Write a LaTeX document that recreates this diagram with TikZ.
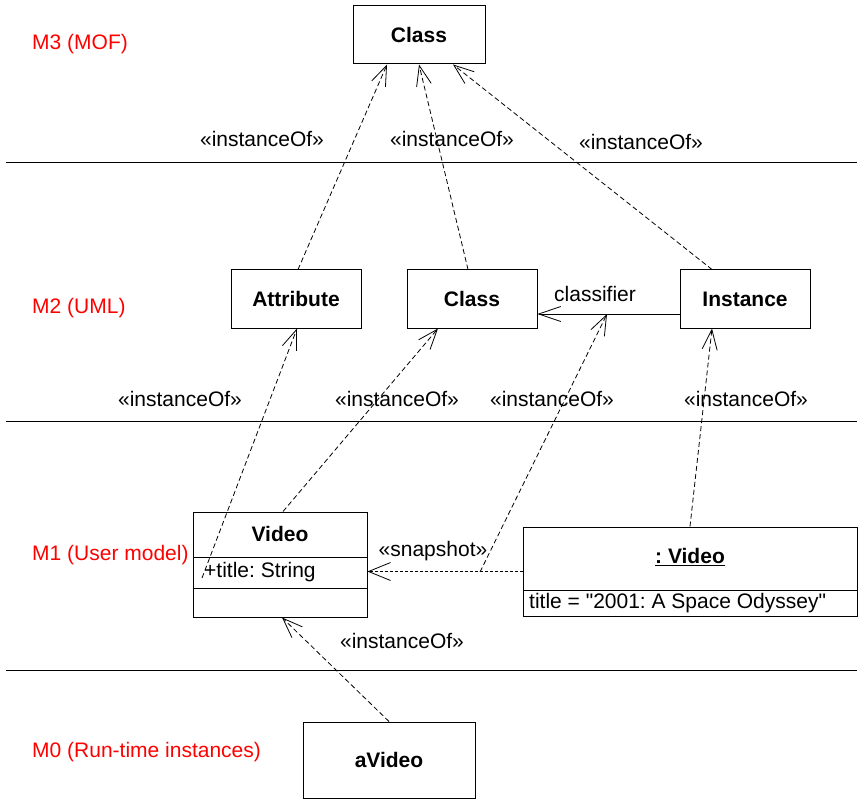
\documentclass[tikz,border=0pt]{standalone}
\usepackage{fontspec}
\setmainfont{Liberation Sans}[Ligatures=TeXOff]
\usetikzlibrary{arrows.meta,calc}
\definecolor{layerred}{RGB}{255,0,0}
\frenchspacing
\begin{document}
\begin{tikzpicture}[x=1pt,y=-1pt,
  txt/.style={font=\fontsize{21}{25}\selectfont, inner sep=0pt},
  btxt/.style={font=\fontsize{21}{25}\selectfont\bfseries, inner sep=0pt},
  layer/.style={txt, text=layerred, anchor=west},
  box/.style={draw, line width=1pt, inner sep=0pt, font=\fontsize{21}{25}\selectfont\bfseries},
  inst/.style={draw, line width=0.8pt, dash pattern=on 5pt off 3pt, -{Straight Barb[length=20pt,width=15pt,line width=0.8pt]}},
  snap/.style={draw, line width=0.8pt, dash pattern=on 3pt off 2pt, -{Straight Barb[length=22pt,width=18pt,line width=0.8pt]}},
  assoc/.style={draw, line width=0.8pt, -{Straight Barb[length=22pt,width=15pt,line width=0.8pt]}},
  sep/.style={line width=0.8pt}]
\useasboundingbox (0,0) rectangle (858,799);

% layer separators
\coordinate (s1a) at (6,162); \coordinate (s1b) at (857,162);
\coordinate (s2a) at (6,421); \coordinate (s2b) at (857,421);
\coordinate (s3a) at (6,670); \coordinate (s3b) at (857,670);
\draw[sep] (s1a) -- (s1b);
\draw[sep] (s2a) -- (s2b);
\draw[sep] (s3a) -- (s3b);

% layer labels
\node[layer] (m3) at (32,44) {M3 (MOF)};
\node[layer] (m2) at (32,308) {M2 (UML)};
\node[layer] (m1) at (32,555) {M1 (User model)};
\node[layer] (m0) at (32,752) {M0 (Run-time instances)};

% boxes
\node[box, minimum width=132pt, minimum height=58pt] (clsT) at (419,35) {Class};
\node[box, minimum width=130pt, minimum height=58pt] (attr) at (296,299) {Attribute};
\node[box, minimum width=130pt, minimum height=58pt] (cls2) at (472,299) {Class};
\node[box, minimum width=130pt, minimum height=58pt] (inst) at (745,299) {Instance};
\node[box, minimum width=172pt, minimum height=76pt] (avid) at (389,760) {aVideo};

% Video class box
\node[draw, line width=1pt, minimum width=174pt, minimum height=105pt, inner sep=0pt] (video) at (280,564.5) {};
\coordinate (vd1a) at (193,557); \coordinate (vd1b) at (367,557);
\coordinate (vd2a) at (193,588); \coordinate (vd2b) at (367,588);
\draw[line width=1pt] (vd1a) -- (vd1b);
\draw[line width=1pt] (vd2a) -- (vd2b);
\node[btxt] (vname) at (280,534) {Video};
\node[txt, anchor=west] (vattr) at (204,572) {+title: String};

% :Video object box
\node[draw, line width=1pt, minimum width=334pt, minimum height=89pt, inner sep=0pt] (objv) at (690,571.5) {};
\coordinate (od1a) at (523,590); \coordinate (od1b) at (857,590);
\draw[line width=1pt] (od1a) -- (od1b);
\node[btxt] (oname) at (690,557) {\underline{: Video}};
\node[txt, anchor=west] (oattr) at (529,603) {title = "2001: A Space Odyssey"};

% classifier association
\coordinate (clsA) at ($(inst.west)+(0,15)$);
\coordinate (clsB) at (clsA -| cls2.east);
\draw[assoc] (clsA) -- (clsB);
\node[txt] (clab) at (595,294) {classifier};
\coordinate (clsMid) at (607,314);

% instanceOf arrows M2 -> M3
\draw[inst] ($(attr.north)+(2,0)$) -- ($(clsT.south)+(-32,0)$);
\draw[inst] ($(cls2.north)+(-4,0)$) -- (clsT.south);
\draw[inst] ($(inst.north)+(-33,0)$) -- ($(clsT.south)+(34,0)$);
\node[txt] (l1) at (262,139) {«instanceOf»};
\node[txt] (l2) at (452,139) {«instanceOf»};
\node[txt] (l3) at (641,142) {«instanceOf»};

% instanceOf arrows M1 -> M2
\coordinate (vAttrPt) at (202,578);
\draw[inst] (vAttrPt) -- ($(attr.south)+(1,0)$);
\draw[inst] ($(video.north)+(3,0)$) -- ($(cls2.south)+(-34,0)$);
\coordinate (snapPt) at (480,572);
\draw[inst] (snapPt) -- (clsMid);
\draw[inst] (objv.north) -- ($(inst.south)+(-33,0)$);
\node[txt] (l4) at (180,399) {«instanceOf»};
\node[txt] (l5) at (397,399) {«instanceOf»};
\node[txt] (l6) at (552,399) {«instanceOf»};
\node[txt] (l7) at (746,399) {«instanceOf»};

% snapshot
\draw[snap] (objv.west) -- (objv.west -| video.east);
\node[txt] (slab) at (433,551) {«snapshot»};

% M0 -> M1
\draw[inst] (avid.north) -- ($(video.south)+(2,0)$);
\node[txt] (l8) at (402,641) {«instanceOf»};
\end{tikzpicture}
\end{document}
